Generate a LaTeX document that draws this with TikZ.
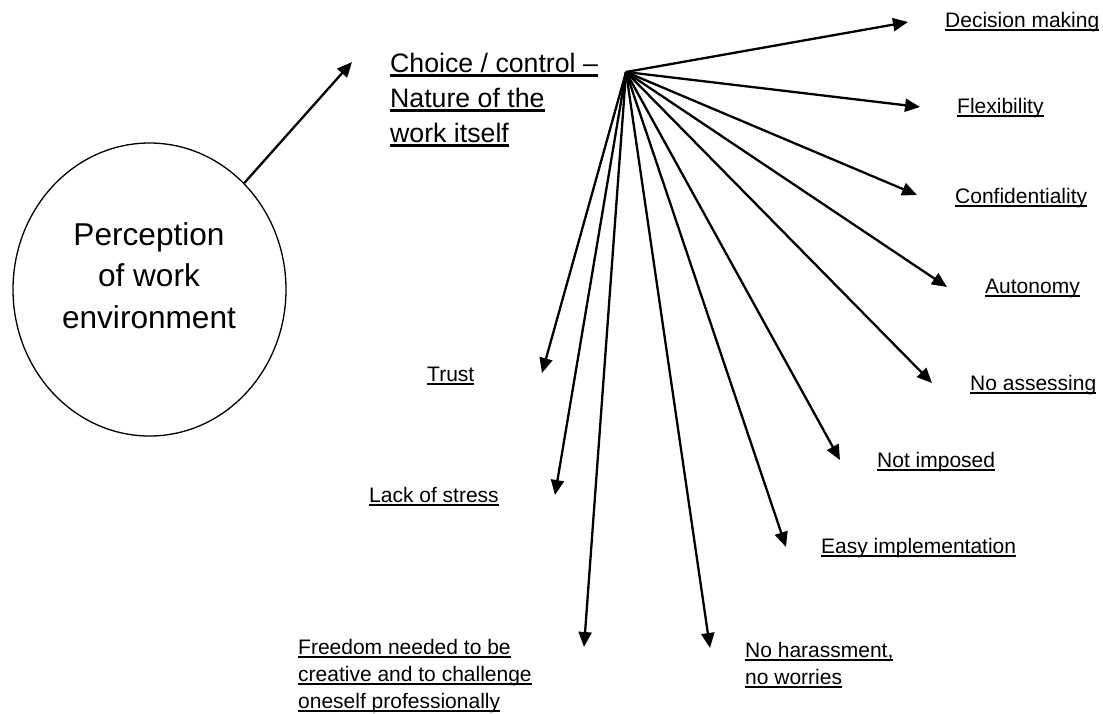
\documentclass[tikz,border=0pt]{standalone}
\usepackage{fontspec}
\setmainfont{Liberation Sans}
\usetikzlibrary{arrows.meta,shapes.geometric}
% underline set at a fixed depth below the baseline
\newcommand\ulin[1]{\setbox0=\hbox{#1}\rlap{\rule[-0.17em]{\wd0}{0.08em}}\box0}
\begin{document}
\begin{tikzpicture}[x=1pt,y=-1pt,
  spoke/.style={line width=2.3pt,-{Triangle[length=15pt,width=13pt]}},
  lbl/.style={anchor=base west,inner sep=0pt,font=\fontsize{21}{27}\selectfont},
  ]
\useasboundingbox (0,0) rectangle (1103,713);

% main concept
\node[ellipse,draw,line width=1.3pt,minimum width=273pt,minimum height=293pt,inner sep=0pt] (env) at (149.5,289.5) {};
\node[anchor=base,inner sep=0pt,font=\fontsize{31.6}{41.5}\selectfont] (envtext) at (149,245)
  {\vtop{\baselineskip=41.5pt\halign{\hfil#\hfil\cr Perception\cr of work\cr environment\cr}}};

% sub concept
\node[anchor=base west,inner sep=0pt,font=\fontsize{26.7}{35}\selectfont] (choice) at (390,72)
  {\vtop{\baselineskip=35pt\hbox{\ulin{Choice / control –}}\hbox{\ulin{Nature of the}}\hbox{\ulin{work itself}}}};
\coordinate (choicetip) at (352,62);
\draw[spoke] (env) -- (choicetip);

% hub of the spokes
\coordinate (hub) at (626,72);

% spoke end points
\coordinate (t1) at (908,22);
\coordinate (t2) at (920,107);
\coordinate (t3) at (917,195);
\coordinate (t4) at (947,287);
\coordinate (t5) at (932,383);
\coordinate (t6) at (840,460);
\coordinate (t7) at (786,547);
\coordinate (t8) at (710,648);
\coordinate (t9) at (584,647);
\coordinate (t10) at (555,495);
\coordinate (t11) at (542,373);

\foreach \i in {1,...,11} \draw[spoke] (hub) -- (t\i);

% outcome labels
\node[lbl] (l1) at (945,27) {\ulin{Decision making}};
\node[lbl] (l2) at (957,113) {\ulin{Flexibility}};
\node[lbl] (l3) at (955,203) {\ulin{Confidentiality}};
\node[lbl] (l4) at (985,293) {\ulin{Autonomy}};
\node[lbl] (l5) at (970,390) {\ulin{No assessing}};
\node[lbl] (l6) at (877,467) {\ulin{Not imposed}};
\node[lbl] (l7) at (821,553) {\ulin{Easy implementation}};
\node[lbl] (l8) at (745,657)
  {\vtop{\baselineskip=27pt\hbox{\ulin{No harassment,}}\hbox{\ulin{no worries}}}};
\node[lbl] (l9) at (298,654)
  {\vtop{\baselineskip=27pt\hbox{\ulin{Freedom needed to be}}\hbox{\ulin{creative and to challenge}}\hbox{\ulin{oneself professionally}}}};
\node[lbl] (l10) at (369,502) {\ulin{Lack of stress}};
\node[lbl] (l11) at (427,381) {\ulin{Trust}};
\end{tikzpicture}
\end{document}
